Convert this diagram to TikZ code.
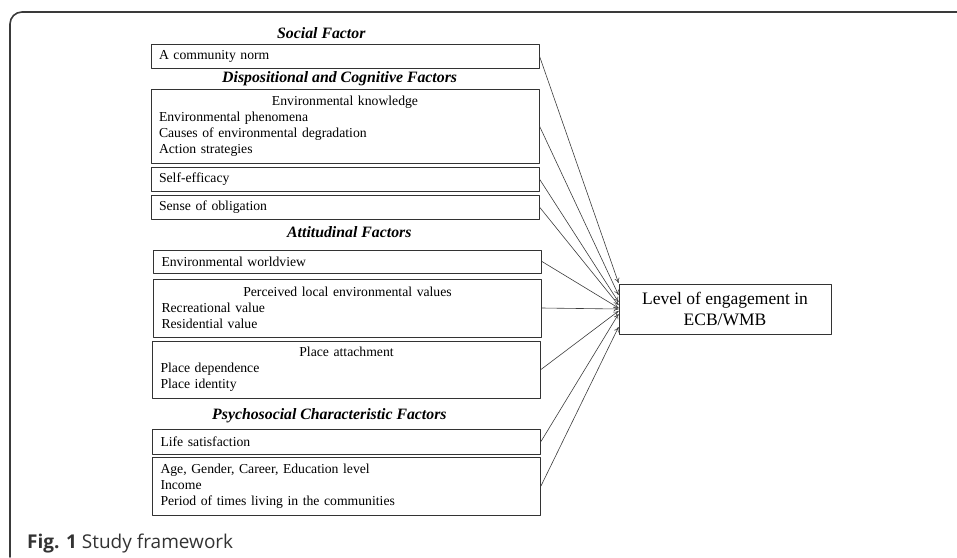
\documentclass[tikz,border=0pt]{standalone}
\usepackage{fontspec}
\setmainfont{Liberation Serif}
\newfontfamily\capfont{Open Sans}
\usepackage{tikz}
\usetikzlibrary{arrows.meta}

\definecolor{framegray}{HTML}{3A3A3A}
\definecolor{boxgray}{HTML}{333333}
\definecolor{linkgray}{HTML}{3C3C3C}

\begin{document}
\begin{tikzpicture}[x=1pt,y=-1pt,line cap=round,line join=round,>={To[length=5pt,width=5pt]},
  factor/.style={draw=boxgray,line width=0.9pt,rectangle,inner xsep=8pt,inner ysep=0pt,
    text width=372pt,align=left,font=\fontsize{13.7}{16}\selectfont},
  heading/.style={anchor=west,inner sep=0pt,font=\fontsize{15.8}{18}\selectfont\bfseries\itshape},
  link/.style={->,draw=linkgray,line width=0.6pt}]
\useasboundingbox (0,0) rectangle (957,557);
%\clip (0,0) rectangle (957,557);
\draw [framegray,line width=1.6pt,rounded corners=12pt] (10,557) -- (10,12) -- (957,12);
% factor groups
\node[heading] (social) at (277,33) {Social Factor};
\node[factor,minimum height=24pt] (norm) at (345,56) {A community norm};
\node[heading] (dispo) at (222,79) {Dispositional and Cognitive Factors};
\node[factor,minimum height=74pt] (know) at (345,126) {\makebox[\linewidth]{Environmental knowledge}\\Environmental phenomena\\Causes of environmental degradation\\Action strategies};
\node[factor,minimum height=24pt] (effic) at (345,179) {Self-efficacy};
\node[factor,minimum height=24pt] (oblig) at (345,207) {Sense of obligation};
\node[heading] (attit) at (287,232) {Attitudinal Factors};
\node[factor,minimum height=23pt] (world) at (347.5,261.5) {Environmental worldview};
\node[factor,minimum height=58pt] (value) at (347.5,308) {\makebox[\linewidth]{Perceived local environmental values}\\Recreational value\\Residential value};
\node[factor,minimum height=57pt] (place) at (346.5,369.5) {\makebox[\linewidth]{Place attachment}\\Place dependence\\Place identity};
\node[heading] (psych) at (212,416) {Psychosocial Characteristic Factors};
\node[factor,minimum height=25pt] (life) at (346.5,441.5) {Life satisfaction};
\node[factor,minimum height=58pt] (demog) at (346.5,486) {Age, Gender, Career, Education level\\Income\\Period of times living in the communities};
% outcome
\node[draw=boxgray,line width=0.9pt,rectangle,minimum width=212pt,minimum height=50pt,inner sep=0pt,align=center,font=\fontsize{17.5}{20.5}\selectfont] (eng) at (725,309) {Level of engagement in\\ECB/WMB};
\draw [link] (norm.east) -- ([yshift=26pt]eng.west);
\draw [link] (know.east) -- ([yshift=14pt]eng.west);
\draw [link] (effic.east) -- ([yshift=7pt]eng.west);
\draw [link] (oblig.east) -- ([yshift=4pt]eng.west);
\draw [link] (world.east) -- ([yshift=1pt]eng.west);
\draw [link] (value.east) -- (eng.west);
\draw [link] (place.east) -- ([yshift=-2pt]eng.west);
\draw [link] (life.east) -- ([yshift=-5pt]eng.west);
\draw [link] (demog.east) -- ([yshift=-18pt]eng.west);
%
\node[anchor=base west,inner sep=0pt,font=\capfont\fontsize{19}{22}\selectfont,text=boxgray] (cap) at (27,548) {\textbf{Fig. 1} Study framework};
\end{tikzpicture}
\end{document}
